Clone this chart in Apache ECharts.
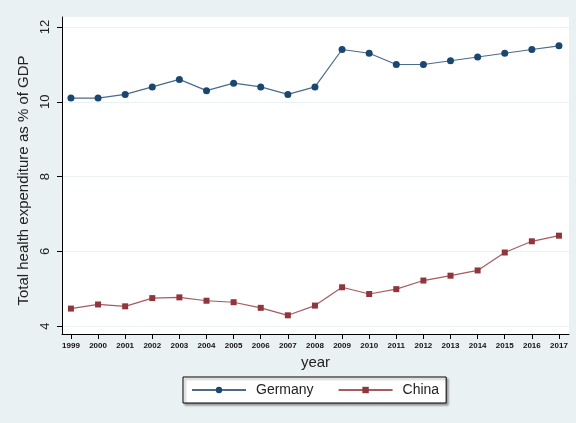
<!DOCTYPE html>
<html><head><meta charset="utf-8">
<script src="https://cdn.jsdelivr.net/npm/echarts@6/dist/echarts.min.js"></script>
<style>html,body{margin:0;padding:0;background:#eaf1f3;}#c{width:576px;height:423px;}</style>
</head><body><div id="c"></div>
<script>
var years = [1999,2000,2001,2002,2003,2004,2005,2006,2007,2008,2009,2010,2011,2012,2013,2014,2015,2016,2017];
var germany = [10.1,10.1,10.2,10.4,10.6,10.3,10.5,10.4,10.2,10.4,11.4,11.3,11.0,11.0,11.1,11.2,11.3,11.4,11.5];
var china = [4.47,4.58,4.53,4.75,4.77,4.68,4.64,4.49,4.29,4.55,5.04,4.86,4.99,5.22,5.35,5.49,5.97,6.27,6.42];
var yTicks = [4,6,8,10,12];

function pairs(v){ return years.map(function(y,i){ return [y, v[i]]; }); }

var chart = echarts.init(document.getElementById('c'), null, {renderer:'canvas'});
chart.setOption({
  backgroundColor: '#eaf1f3',
  animation: false,
  textStyle: {fontFamily: 'Liberation Sans, Arial, sans-serif'},
  grid: {left: 62, right: 7, top: 17, bottom: 89, show: true, backgroundColor: '#ffffff', borderWidth: 0},
  xAxis: {
    type: 'value', min: 1998.67, max: 2017.37,
    name: 'year', nameLocation: 'middle', nameGap: 18,
    nameTextStyle: {fontSize: 15, color: '#222'},
    axisLine: {show: true, lineStyle: {color: '#000', width: 1}},
    axisTick: {show: true, length: 5, lineStyle: {color: '#000'}, customValues: years},
    axisLabel: {fontSize: 8, color: '#111', fontWeight: 'bold', margin: 8, customValues: years, formatter: function(v){return String(v);}},
    splitLine: {show: false}
  },
  yAxis: {
    type: 'value', min: 3.79, max: 12.27,
    name: 'Total health expenditure as % of GDP', nameLocation: 'middle', nameGap: 29,
    nameTextStyle: {fontSize: 15, color: '#222', padding: [0, 10, 0, 0]},
    axisLine: {show: true, lineStyle: {color: '#000', width: 1}},
    axisTick: {show: true, length: 5, lineStyle: {color: '#000'}, customValues: yTicks},
    axisLabel: {fontSize: 13, color: '#222', rotate: 90, margin: 10, customValues: yTicks},
    splitLine: {show: true, lineStyle: {color: '#eaf2f3', width: 1}}
  },
  legend: {
    left: 183, top: 377,
    backgroundColor: '#ffffff', borderColor: '#000', borderWidth: 1, borderRadius: 0,
    padding: [6, 7, 6, 8], itemWidth: 54, itemHeight: 8, itemGap: 24,
    shadowColor: 'rgba(0,0,0,0.35)', shadowBlur: 2, shadowOffsetX: 2, shadowOffsetY: 2,
    textStyle: {fontSize: 14, color: '#222', padding: [0, 0, 0, 5]},
    data: ['Germany', 'China']
  },
  series: [
    {name: 'Germany', type: 'line', data: pairs(germany), symbol: 'circle', symbolSize: 7,
     itemStyle: {color: '#1a476f'}, lineStyle: {color: '#4a6b8a', width: 1.2}},
    {name: 'China', type: 'line', data: pairs(china), symbol: 'rect', symbolSize: 6,
     itemStyle: {color: '#90353b'}, lineStyle: {color: '#a85a60', width: 1.2}}
  ]
});
</script></body></html>
